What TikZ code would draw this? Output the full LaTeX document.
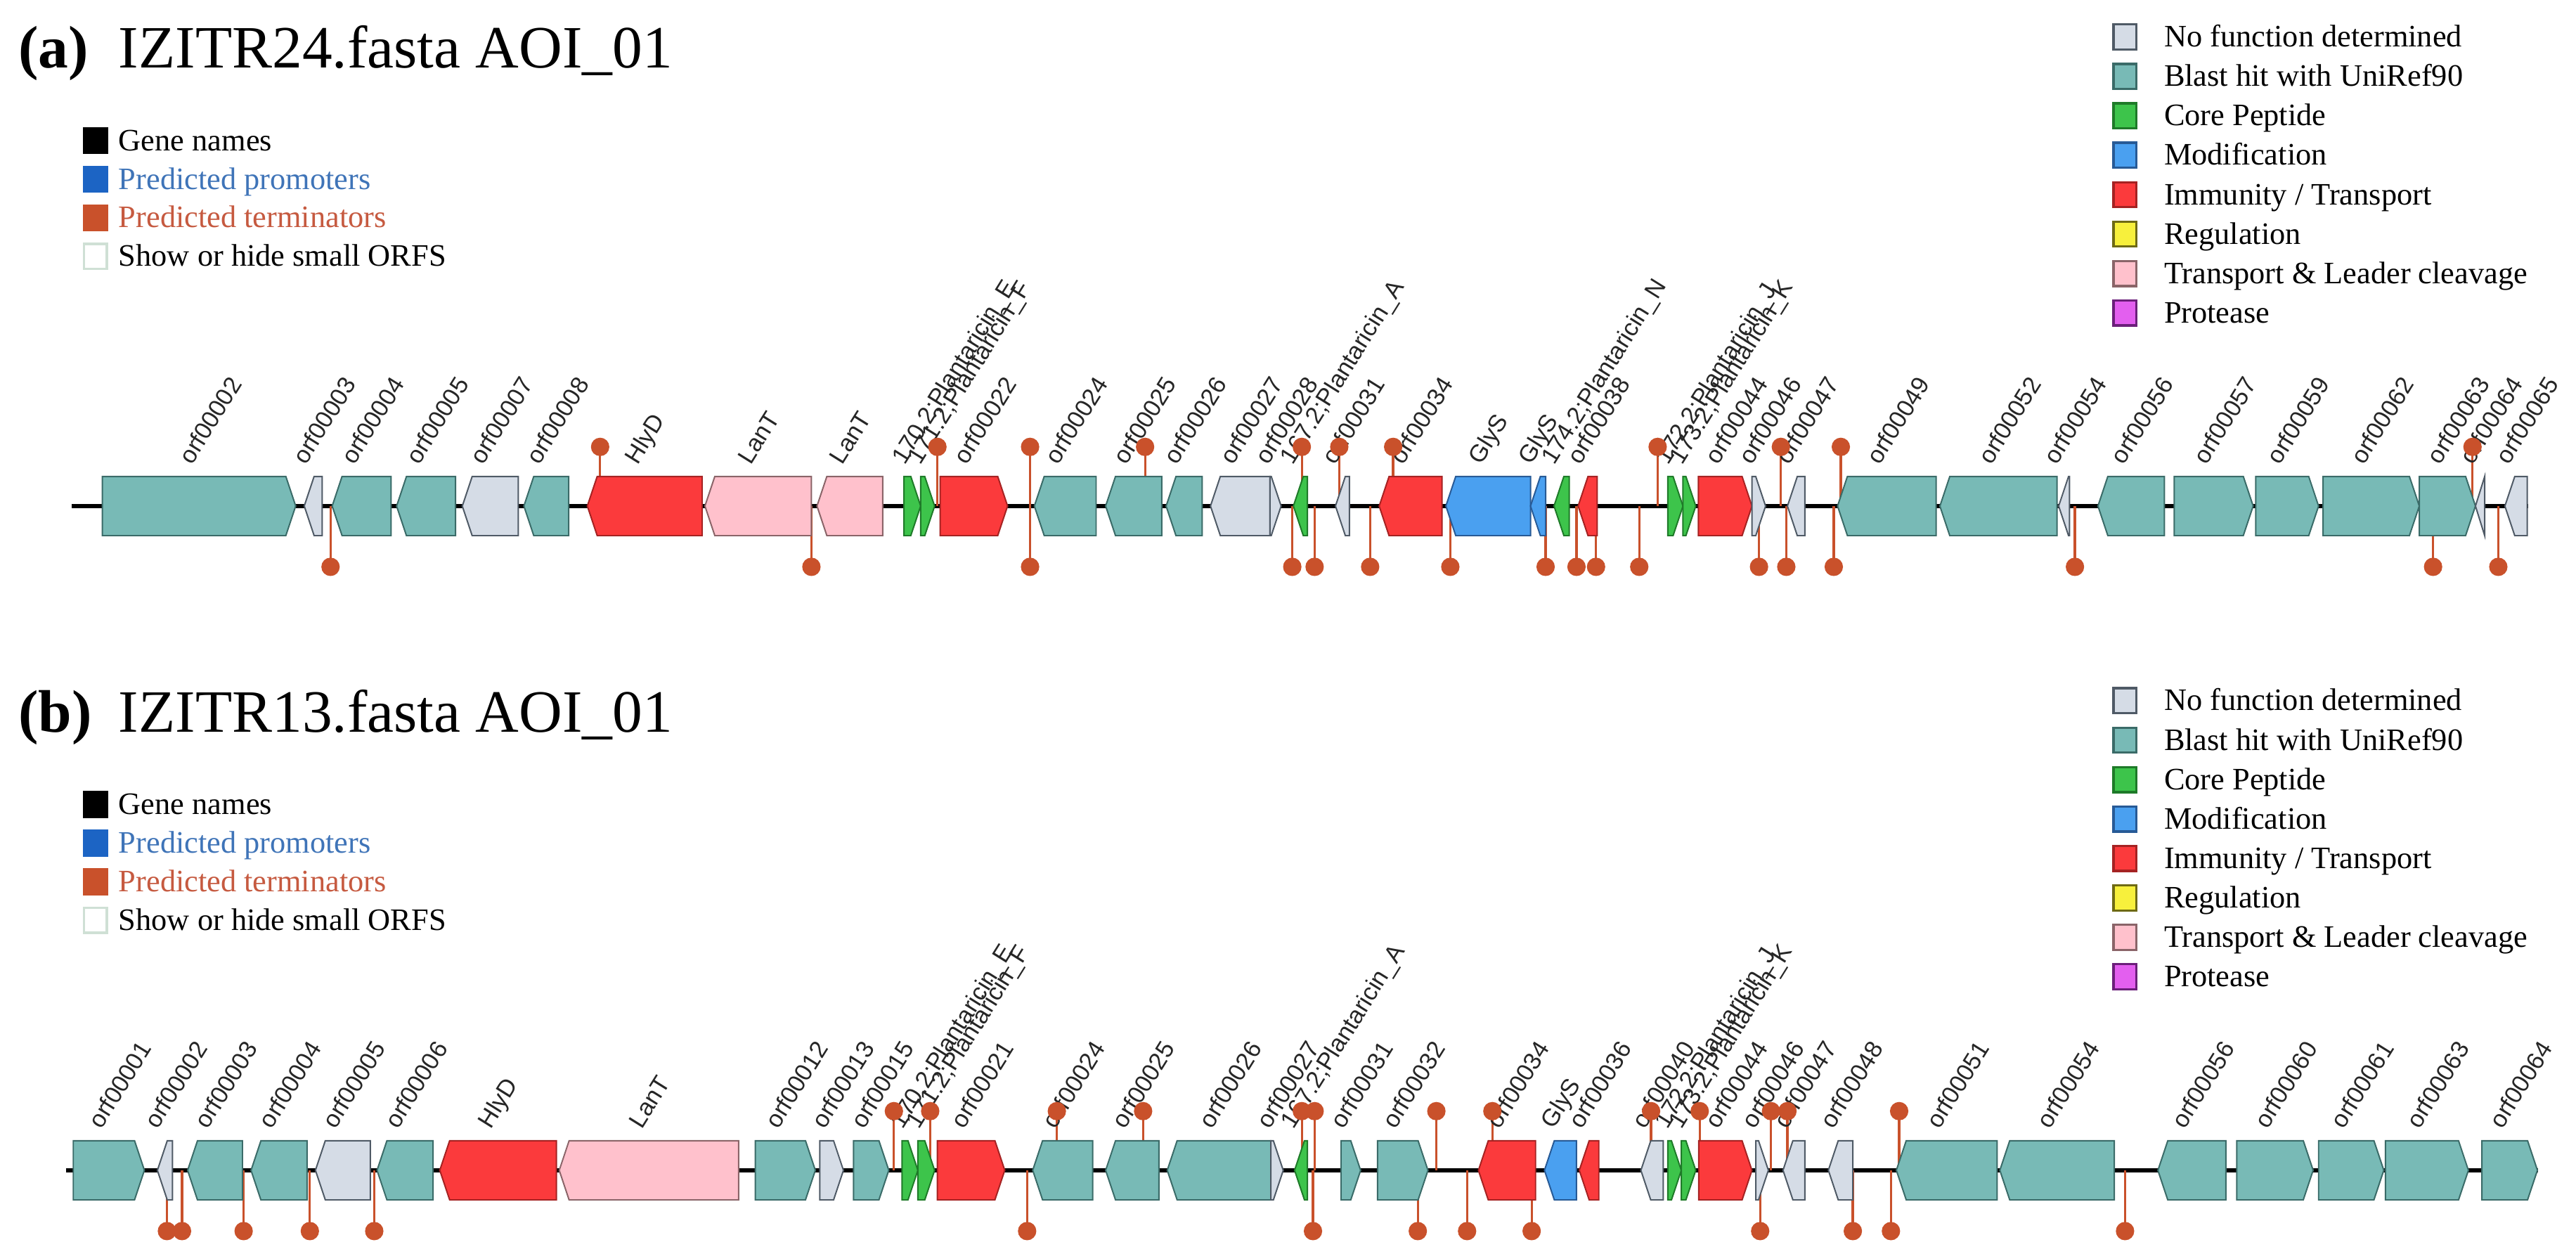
\documentclass[tikz,border=0pt]{standalone}
\usepackage{fontspec}
\setmainfont{Liberation Serif}
\newfontfamily\lblfont{Liberation Sans}
\usetikzlibrary{positioning}

\definecolor{nofnF}{HTML}{D5DCE6}\definecolor{nofnD}{HTML}{4F5A66}
\definecolor{blastF}{HTML}{78BAB6}\definecolor{blastD}{HTML}{3A6B68}
\definecolor{coreF}{HTML}{3DC44B}\definecolor{coreD}{HTML}{1E7A28}
\definecolor{modF}{HTML}{4AA0F0}\definecolor{modD}{HTML}{275A96}
\definecolor{immF}{HTML}{FB3A3C}\definecolor{immD}{HTML}{A52222}
\definecolor{regF}{HTML}{F7F03C}\definecolor{regD}{HTML}{6E6A14}
\definecolor{leadF}{HTML}{FFC1CC}\definecolor{leadD}{HTML}{8A6468}
\definecolor{protF}{HTML}{E35FEF}\definecolor{protD}{HTML}{6B1F7A}
\definecolor{gnF}{HTML}{000000}\definecolor{gnD}{HTML}{000000}
\definecolor{prF}{HTML}{1C64C4}\definecolor{prD}{HTML}{1C64C4}
\definecolor{tmF}{HTML}{C9512B}\definecolor{tmD}{HTML}{C9512B}
\definecolor{shF}{HTML}{FFFFFF}\definecolor{shD}{HTML}{CFE0D5}
\definecolor{promT}{HTML}{3F74B8}
\definecolor{termT}{HTML}{C65A40}
\definecolor{termC}{HTML}{C9512B}

\tikzset{
    gene/.style={draw=#1D, fill=#1F, line width=0.6pt, line join=miter},
    backbone/.style={line width=2pt, black},
    termline/.style={termC, line width=1pt},
    orflbl/.style={font=\lblfont\fontsize{10.5}{10.5}\selectfont, rotate=58, anchor=base west, inner sep=0pt, text=black!85},
    ttl/.style={font=\fontsize{26}{26}\selectfont, anchor=base west, inner sep=0pt},
    legtxt/.style={font=\fontsize{13.5}{13.5}\selectfont, anchor=base west, inner sep=0pt},
    legsq/.style={draw=#1D, fill=#1F, line width=1pt, minimum width=3.5mm, minimum height=3.8mm, inner sep=0pt},
}

% x1, x2, direction (R/L), class, backbone y
\newcommand{\orf}[5]{%
    \if#3R
        \draw[gene=#4] (#1,#5-18) -- ({max(#1,#2-6)},#5-18) -- (#2,#5) -- ({max(#1,#2-6)},#5+18) -- (#1,#5+18) -- cycle;
    \else
        \draw[gene=#4] (#2,#5-18) -- ({min(#2,#1+6)},#5-18) -- (#1,#5) -- ({min(#2,#1+6)},#5+18) -- (#2,#5+18) -- cycle;
    \fi}

\def\genesA{62.3/180/R/blast/orf00002, 185.2/196.1/L/nofn/orf00003, 202.2/238/L/blast/orf00004,
    241.4/277.3/L/blast/orf00005, 281.4/315.5/L/nofn/orf00007, 318.9/346.2/L/blast/orf00008,
    357.5/427.4/L/imm/HlyD, 429.1/493.9/L/lead/LanT, 497.3/537.3/L/lead/LanT,
    550.2/560.4/R/core/170.2;Plantaricin\_E, 560.4/568.9/R/core/171.2;Plantaricin\_F,
    572.3/613.3/R/imm/orf00022, 629.6/667.2/L/blast/orf00024, 673/707.1/L/blast/orf00025,
    709.8/731.7/L/blast/orf00026, 736.8/773/L/nofn/orf00027, 773/779.8/R/nofn/orf00028,
    787.3/795.8/L/core/167.2;Plantaricin\_A, 812.9/821.4/L/nofn/orf00031, 839.5/877.7/L/imm/orf00034,
    880.1/931.6/L/mod/GlyS, 931.6/940.8/L/mod/GlyS, 945.9/955.2/L/core/174.2;Plantaricin\_N,
    960.6/972.2/L/imm/orf00038, 1015.2/1024.4/R/core/172.2;Plantaricin\_J,
    1024.4/1032.2/R/core/173.2;Plantaricin\_K, 1033.8/1066.4/R/imm/orf00044,
    1066.4/1074.7/R/nofn/orf00046, 1088/1098.6/L/nofn/orf00047, 1118.5/1178.5/L/blast/orf00049,
    1180.8/1252.1/L/blast/orf00052, 1253.1/1259.7/L/nofn/orf00054, 1277/1317.4/L/blast/orf00056,
    1323.4/1371.5/R/blast/orf00057, 1373.1/1411.3/R/blast/orf00059, 1414/1472.6/R/blast/orf00062,
    1472.6/1506.8/R/blast/orf00063, 1506.8/1512.4/L/nofn/orf00064, 1524.7/1538.3/L/nofn/orf00065}

\def\genesB{44.6/87.9/R/blast/orf00001, 95.8/105/L/nofn/orf00002, 114.2/147.6/L/blast/orf00003,
    152.8/186.9/L/blast/orf00004, 192/225.4/L/nofn/orf00005, 229.5/263.6/L/blast/orf00006,
    267.7/338.7/L/imm/HlyD, 340.4/449.6/L/lead/LanT, 459.8/496.3/R/blast/orf00012,
    499/513.4/R/nofn/orf00013, 519.5/541/R/blast/orf00015,
    549.1/558.7/R/core/170.2;Plantaricin\_E, 558.7/568.9/R/core/171.2;Plantaricin\_F,
    570.6/611.6/R/imm/orf00021, 628.6/665.1/L/blast/orf00024, 673/705.4/L/blast/orf00025,
    710.5/773.6/L/blast/orf00026, 773.6/781.1/R/nofn/orf00027, 788/795.8/L/core/167.2;Plantaricin\_A,
    816.3/828.2/R/blast/orf00031, 838.5/869.2/R/blast/orf00032, 899.9/934.7/L/imm/orf00034,
    940.1/959.6/L/mod/GlyS, 961.3/973.2/L/imm/orf00036, 998.8/1012.4/L/nofn/orf00040,
    1015.2/1023.4/R/core/172.2;Plantaricin\_J, 1023.4/1032.2/R/core/173.2;Plantaricin\_K,
    1034/1066.4/R/imm/orf00044, 1068.8/1076.4/R/nofn/orf00046, 1085.3/1098.6/L/nofn/orf00047,
    1112.9/1127.8/L/nofn/orf00048, 1154.3/1215.6/L/blast/orf00051, 1217.3/1287/L/blast/orf00054,
    1313.5/1354.9/L/blast/orf00056, 1361.5/1408/R/blast/orf00060, 1411.3/1451/R/blast/orf00061,
    1452/1502.5/R/blast/orf00063, 1510.7/1544.5/R/blast/orf00064}

\def\upA{365.3,570.6,627,697,792.4,815.2,848,1009,1084,1120.5,1505}
\def\dnA{201.2,493.9,627,786.6,800.2,834,882.8,940.8,959.6,971.5,997.8,1070.7,1087.3,1116.2,1263,1481,1520.7}
\def\upB{544.1,566.2,643.3,695.8,792.4,800.2,874.3,908.4,1005,1034.6,1078,1088,1156}
\def\dnB{101.6,110.8,148.3,188.6,227.8,625.2,799.2,863,893,932.3,1071.4,1127.8,1151,1293.5}

\begin{document}
\begin{tikzpicture}[x=0.025cm, y=-0.025cm]
    \useasboundingbox (0,0) rectangle (1568,763);
    \fill[white] (0,0) rectangle (1568,763);

    % titles
    \node[ttl] (ta) at (11,41.4) {\bfseries (a)};
    \node[ttl] (tna) at (72,41.4) {IZITR24.fasta AOI\_01};
    \node[ttl] (tb) at (11,445.4) {\bfseries (b)};
    \node[ttl] (tnb) at (72,445.4) {IZITR13.fasta AOI\_01};

    % legends
    \foreach \dy in {0,404} {
        \foreach \sty/\tc/\txt [count=\i] in {gn/black/Gene names, pr/promT/Predicted promoters,
            tm/termT/Predicted terminators, sh/black/Show or hide small ORFS} {
            \node[legsq=\sty] (kl\i-\dy) at (58,{85.6+23.5*(\i-1)+\dy}) {};
            \node[legtxt, text=\tc] (tl\i-\dy) at (72,{91.6+23.5*(\i-1)+\dy}) {\txt};
        }
        \foreach \sty/\txt [count=\i] in {nofn/No function determined, blast/Blast hit with UniRef90,
            core/Core Peptide, mod/Modification, imm/Immunity {/} Transport, reg/Regulation,
            lead/Transport \& Leader cleavage, prot/Protease} {
            \node[legsq=\sty] (kr\i-\dy) at (1293.5,{22.5+24*(\i-1)+\dy}) {};
            \node[legtxt] (tr\i-\dy) at (1317,{28.5+24*(\i-1)+\dy}) {\txt};
        }
    }

    % track a
    \coordinate (sa) at (43.6,308);
    \coordinate (ea) at (1539,308);
    \draw[backbone] (sa) -- (ea);
    \foreach \x in \upA {\draw[termline] (\x,308) -- (\x,272);}
    \foreach \x in \dnA {\draw[termline] (\x,308) -- (\x,345);}
    \foreach \xa/\xb/\dir/\sty/\nm [count=\i] in \genesA {
        \orf{\xa}{\xb}{\dir}{\sty}{308}
        \node[orflbl] (la\i) at ({(\xa+\xb)/2-4.5},283.5) {\nm};
    }
    \foreach \x in \upA {\fill[termC] (\x,272) circle (5.6);}
    \foreach \x in \dnA {\fill[termC] (\x,345) circle (5.6);}

    % track b
    \coordinate (sb) at (40.2,712.3);
    \coordinate (eb) at (1545,712.3);
    \draw[backbone] (sb) -- (eb);
    \foreach \x in \upB {\draw[termline] (\x,712.3) -- (\x,676.3);}
    \foreach \x in \dnB {\draw[termline] (\x,712.3) -- (\x,749.3);}
    \foreach \xa/\xb/\dir/\sty/\nm [count=\i] in \genesB {
        \orf{\xa}{\xb}{\dir}{\sty}{712.3}
        \node[orflbl] (lb\i) at ({(\xa+\xb)/2-4.5},687.8) {\nm};
    }
    \foreach \x in \upB {\fill[termC] (\x,676.3) circle (5.6);}
    \foreach \x in \dnB {\fill[termC] (\x,749.3) circle (5.6);}
\end{tikzpicture}
\end{document}
